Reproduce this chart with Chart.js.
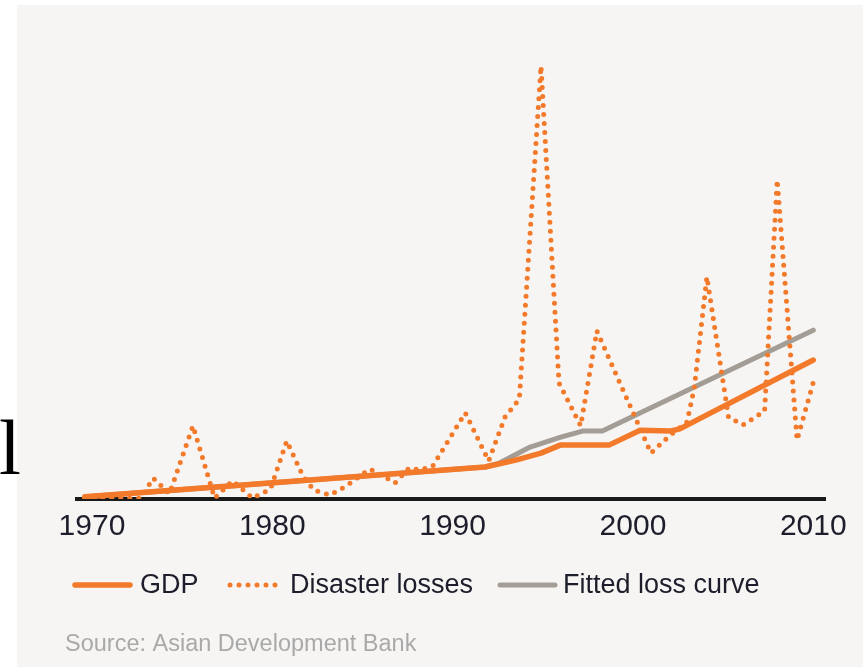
<!DOCTYPE html>
<html>
<head>
<meta charset="utf-8">
<script src="https://cdn.jsdelivr.net/npm/chart.js@4.4.0/dist/chart.umd.min.js"></script>
<style>
  html, body { margin: 0; padding: 0; background: #fff; }
  #wrap { position: relative; width: 863px; height: 667px; overflow: hidden; }
  #panel { position: absolute; left: 17px; top: 5px; right: 0; bottom: 0; background: #f7f5f3; }
  #chart { position: absolute; left: 0; top: 0; }
  #stray { position: absolute; left: -1px; top: 408px; font: 79px/79px "Liberation Serif", serif; color: #000; }
</style>
</head>
<body>
<div id="wrap">
  <div id="panel"></div>
  <div id="stray">l</div>
  <canvas id="chart" width="863" height="667"></canvas>
</div>
<script>
// values (index, peak 1995 = 100)
const tickYears = [1970, 1980, 1990, 2000, 2010]

const gdpYears = [1969.6, 1991.8, 1993.5, 1994.9, 1996.0, 1998.7, 2000.4, 2002.1, 2002.6, 2010.0]
const gdpValues = [0.5, 7.4, 9.0, 10.6, 12.5, 12.5, 15.9, 15.7, 16.2, 32.1]

const lossYears = [1969.6, 1972.7, 1973.4, 1974.3, 1975.6, 1976.8, 1977.8, 1978.9, 1979.9, 1980.8,
  1981.7, 1982.3, 1983.2, 1984.1, 1985.4, 1985.8, 1986.8, 1987.6, 1988.2, 1988.9,
  1990.7, 1992.0, 1992.9, 1993.7, 1994.9, 1995.9, 1997.1, 1998.0, 2001.0, 2002.0,
  2003.0, 2003.4, 2004.1, 2005.3, 2006.1, 2007.3, 2008.0, 2009.1, 2010.1]
const lossValues = [0.2, 0.2, 4.8, 1.2, 16.9, 0.2, 4.2, 0.2, 2.3, 13.4,
  5.3, 2.1, 0.9, 3.0, 6.9, 6.2, 3.7, 7.2, 6.7, 7.6,
  19.9, 8.8, 18.9, 23.1, 100, 26.8, 16.9, 38.8, 10.6, 14.5,
  17.8, 25.6, 51.3, 18.9, 17.1, 20.3, 73.7, 13.6, 28.4]

const fitYears = [1969.6, 1991.8, 1992.6, 1994.3, 1996.0, 1997.2, 1998.3, 2010.0]
const fitValues = [0.5, 7.4, 8.3, 12.0, 14.3, 15.7, 15.7, 39.0]

const toPoints = (xs, ys) => xs.map((x, i) => ({x: x, y: ys[i]}))

const ORANGE = '#f37a2a'
const GREY = '#a39d96'

// legend + source drawn on the canvas
const legendPlugin = {
  id: 'legendBelow',
  afterDraw(chart) {
    const ctx = chart.ctx
    const items = [
      {ds: 0, x0: 75, x1: 130, tx: 140, label: 'GDP'},
      {ds: 1, x0: 230, x1: 281, tx: 290, label: 'Disaster losses'},
      {ds: 2, x0: 500, x1: 555, tx: 563, label: 'Fitted loss curve'}
    ]
    const y = 585
    ctx.save()
    items.forEach(it => {
      const d = chart.data.datasets[it.ds]
      ctx.beginPath()
      ctx.strokeStyle = d.borderColor
      ctx.lineWidth = d.borderWidth
      ctx.lineCap = 'round'
      ctx.setLineDash(d.borderDash || [])
      ctx.moveTo(it.x0, y)
      ctx.lineTo(it.x1, y)
      ctx.stroke()
      ctx.setLineDash([])
      ctx.fillStyle = '#1d1d2b'
      ctx.font = '27px "Liberation Sans", Arial, sans-serif'
      ctx.textBaseline = 'middle'
      ctx.fillText(it.label, it.tx, y + 1)
    })
    ctx.fillStyle = '#a9a9a9'
    ctx.font = '23.5px "Liberation Sans", Arial, sans-serif'
    ctx.fillText('Source: Asian Development Bank', 65, 645)
    ctx.restore()
  }
}

const ctx = document.getElementById('chart').getContext('2d')
const chart = new Chart(ctx, {
  type: 'line',
  data: {
    datasets: [{
      label: 'GDP',
      data: toPoints(gdpYears, gdpValues),
      borderColor: ORANGE,
      borderWidth: 5.5,
      borderCapStyle: 'round',
      borderJoinStyle: 'round',
      pointRadius: 0,
      order: 1
    }, {
      label: 'Disaster losses',
      data: toPoints(lossYears, lossValues),
      borderColor: ORANGE,
      borderWidth: 5,
      borderDash: [0, 9],
      borderCapStyle: 'round',
      pointRadius: 0,
      order: 0
    }, {
      label: 'Fitted loss curve',
      data: toPoints(fitYears, fitValues),
      borderColor: GREY,
      borderWidth: 5,
      borderCapStyle: 'round',
      borderJoinStyle: 'round',
      pointRadius: 0,
      order: 2
    }]
  },
  options: {
    responsive: false,
    animation: false,
    layout: {padding: {left: 77, right: 38, top: 25, bottom: 0}},
    plugins: {legend: {display: false}, tooltip: {enabled: false}},
    scales: {
      x: {
        type: 'linear',
        min: 1969.17,
        max: 2010.65,
        grid: {display: false, drawTicks: false},
        border: {display: true, color: '#1a1a1a', width: 4},
        afterBuildTicks: s => { s.ticks = tickYears.map(v => ({value: v})) },
        afterFit: s => { s.height = 168 },
        ticks: {
          padding: 10,
          color: '#1d1d2b',
          font: {family: '"Liberation Sans", Arial, sans-serif', size: 30},
          callback: v => String(v)
        }
      },
      y: {display: false, min: 0, max: 109.5}
    }
  },
  plugins: [legendPlugin]
})
</script>
</body>
</html>
